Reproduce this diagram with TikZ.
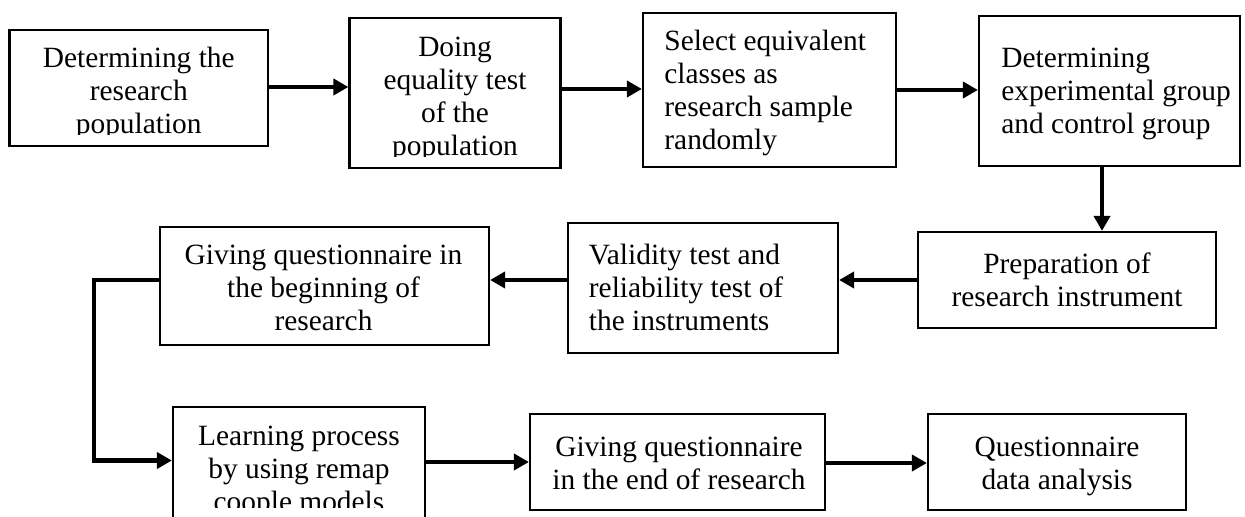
\documentclass[tikz,border=0pt]{standalone}
\usepackage{fontspec}
\setmainfont{Liberation Serif}
\usetikzlibrary{arrows.meta}
\newcommand{\lbfont}{\fontsize{14.7pt}{16.5pt}\selectfont}
\newcommand{\cbox}[3]{\parbox[t]{#1}{\centering #3}}
\newcommand{\lbox}[3]{\parbox[t]{#1}{\raggedright #3}}
\tikzset{
  flowbox/.style={draw, line width=1.1pt, inner sep=0pt},
  lbl/.style={inner sep=0pt, font=\lbfont},
  arr/.style={line width=2.1pt, -{Triangle[length=7.5pt,width=8pt]}},
}
\begin{document}
\begin{tikzpicture}[x=0.5pt,y=-0.5pt]
\path[use as bounding box, fill=white] (0,0) rectangle (1245,517);
\clip (0,0) rectangle (1245,517);
% boxes
\node[flowbox, minimum width=129.25pt, minimum height=58pt] (b1) at (138.75,88) {};
\node[flowbox, minimum width=105.5pt, minimum height=75pt] (b2) at (455,93) {};
\node[flowbox, minimum width=126.5pt, minimum height=77pt] (b3) at (769.5,90) {};
\node[flowbox, minimum width=130.5pt, minimum height=75pt] (b4) at (1109.5,91) {};
\node[flowbox, minimum width=149pt, minimum height=48pt] (prep) at (1067,280) {};
\node[flowbox, minimum width=135pt, minimum height=65pt] (val) at (703,288) {};
\node[flowbox, minimum width=164.5pt, minimum height=59pt] (gb) at (324.5,286) {};
\node[flowbox, minimum width=126pt, minimum height=66.5pt] (learn) at (299,473.5) {};
\node[flowbox, minimum width=147.5pt, minimum height=48pt] (ge) at (677.5,462) {};
\node[flowbox, minimum width=129pt, minimum height=48pt] (qa) at (1057,462) {};
% texts
\begin{scope}
\clip (9.5,30) rectangle (268,135);
\node[lbl, anchor=base] (t1) at (138.75,68) {\cbox{125pt}{}{Determining the\\research\\population}};
\end{scope}
\begin{scope}
\clip (349.5,18) rectangle (560.5,157);
\node[lbl, anchor=base] (t2) at (455,57) {\cbox{102pt}{}{Doing\\equality test\\of the\\population}};
\end{scope}
\node[lbl, anchor=base west] (t3) at (664,51) {\lbox{115pt}{}{Select equivalent\\classes as\\research sample\\randomly}};
\node[lbl, anchor=base west] (t4) at (1001,68) {\lbox{118pt}{}{Determining\\experimental group\\and control group}};
\node[lbl, anchor=base] (t5) at (1067,274) {\cbox{145pt}{}{Preparation of\\research instrument}};
\node[lbl, anchor=base west] (t6) at (588.5,265) {\lbox{124pt}{}{Validity test and\\reliability test of\\the instruments}};
\node[lbl, anchor=base] (t7) at (323.5,265) {\cbox{160pt}{}{Giving questionnaire in\\the beginning of\\research}};
\begin{scope}
\clip (173,407) rectangle (425,507);
\node[lbl, anchor=base] (t8) at (299,445) {\cbox{122pt}{}{Learning process\\by using remap\\coople models}};
\end{scope}
\node[lbl, anchor=base] (t9) at (679,456) {\cbox{145pt}{}{Giving questionnaire\\in the end of research}};
\node[lbl, anchor=base] (t10) at (1057,456) {\cbox{125pt}{}{Questionnaire\\data analysis}};
% connectors
\draw[arr] ([yshift=0.5pt]b1.east) -- ([yshift=0.5pt]b1.east -| b2.west);
\draw[arr] ([yshift=2pt]b2.east) -- ([yshift=2pt]b2.east -| b3.west);
\draw[arr] (b3.east) -- (b3.east -| b4.west);
\draw[arr] ([xshift=-3.75pt]b4.south) -- ([xshift=-3.75pt]b4.south |- prep.north);
\draw[arr] (prep.west) -- (prep.west -| val.east);
\draw[arr] ([yshift=4pt]val.west) -- ([yshift=4pt]val.west -| gb.east);
\draw[arr] ([yshift=3pt]gb.west) -- ++(-32.5pt,0) |- ([yshift=6.5pt]learn.west);
\draw[arr] (ge.west -| learn.east) -- (ge.west);
\draw[arr] ([yshift=-0.5pt]ge.east) -- ([yshift=-0.5pt]ge.east -| qa.west);
\end{tikzpicture}
\end{document}
